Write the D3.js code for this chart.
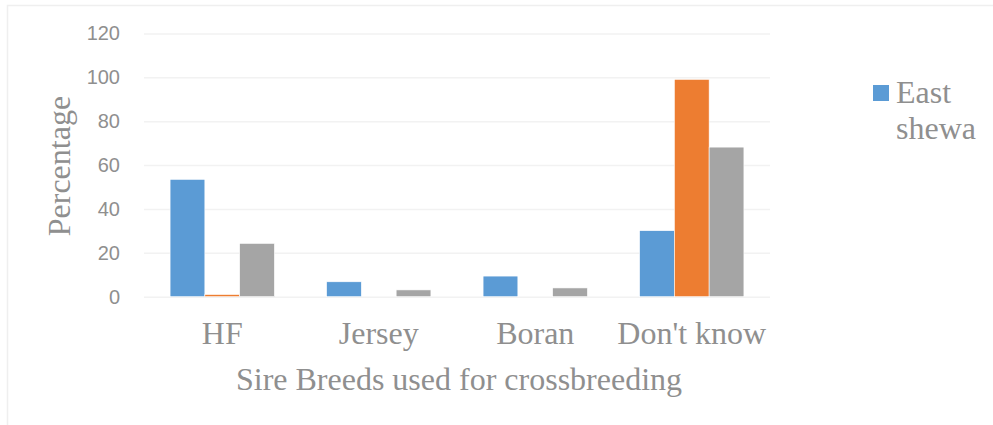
<!DOCTYPE html>
<html>
<head>
<meta charset="utf-8">
<script src="https://cdn.jsdelivr.net/npm/d3@7"></script>
<style>
  html, body { margin: 0; padding: 0; background: #fff; }
  svg { display: block; }
</style>
</head>
<body>
<svg id="chart" width="993" height="425"></svg>
<script>
// Share of respondents by sire breed used, per zone
const categories = ["HF", "Jersey", "Boran", "Don't know"];
const seriesNames = ["East shewa", "zone2", "zone3"];
const eastShewa = [53.5, 6.8, 9.4, 30.1];
const zone2 = [1, 0, 0, 99.1];
const zone3 = [24.3, 3.1, 4.0, 68.2];
const yTicks = [0, 20, 40, 60, 80, 100, 120];
const legendLabels = ["East shewa"];

const seriesValues = [eastShewa, zone2, zone3];
const colors = ["#5b9bd5", "#ed7d31", "#a5a5a5"];

const svg = d3.select("#chart");
const plot = { left: 144, right: 770, top: 33.5, bottom: 296.7 };

// outer chart frame
svg.append("rect")
  .attr("x", 7.5).attr("y", 5.5)
  .attr("width", 1000).attr("height", 440)
  .attr("fill", "#fff")
  .attr("stroke", "#efefef")
  .attr("stroke-width", 1.5);

const x0 = d3.scaleBand().domain(categories).range([plot.left, plot.right]).padding(0);
const x1 = d3.scaleBand().domain(seriesNames).range([0, x0.bandwidth()])
  .paddingInner(0).paddingOuter(0.75);
const y = d3.scaleLinear().domain([0, 120]).range([plot.bottom, plot.top]);

// gridlines + tick labels
const yAxis = d3.axisLeft(y).tickValues(yTicks)
  .tickSize(-(plot.right - plot.left)).tickPadding(24);
const gy = svg.append("g").attr("transform", `translate(${plot.left},0)`).call(yAxis);
gy.select(".domain").remove();
gy.selectAll(".tick line").attr("stroke", "#f2f2f2").attr("stroke-width", 1.5);
gy.selectAll(".tick text")
  .attr("fill", "#8f8f8f")
  .style("font-family", "'Liberation Sans', Arial, sans-serif")
  .style("font-size", "20px");

// bars
const rows = categories.map((c, i) => ({
  cat: c,
  vals: seriesNames.map((s, j) => ({ key: s, value: seriesValues[j][i], color: colors[j] }))
}));

svg.append("g").selectAll("g").data(rows).join("g")
  .attr("transform", d => `translate(${x0(d.cat)},0)`)
  .selectAll("rect").data(d => d.vals.filter(v => v.value > 0)).join("rect")
  .attr("x", d => x1(d.key))
  .attr("y", d => y(d.value))
  .attr("width", x1.bandwidth())
  .attr("height", d => y(0) - y(d.value))
  .attr("fill", d => d.color)
  .attr("stroke", "#fff")
  .attr("stroke-width", 0.6);

const serif = "'Liberation Serif', 'Times New Roman', serif";
const textGray = "#8f8f8f";
const serifSize = "32px";

// category labels
svg.append("g").selectAll("text").data(categories).join("text")
  .attr("x", d => x0(d) + x0.bandwidth() / 2)
  .attr("y", 344)
  .attr("text-anchor", "middle")
  .attr("fill", textGray)
  .style("font-family", serif)
  .style("font-size", serifSize)
  .text(d => d);

// axis titles
svg.append("text")
  .attr("x", (plot.left + plot.right) / 2 + 2)
  .attr("y", 390)
  .attr("text-anchor", "middle")
  .attr("fill", textGray)
  .style("font-family", serif)
  .style("font-size", serifSize)
  .text("Sire Breeds used for crossbreeding");

svg.append("text")
  .attr("transform", `translate(70,${(plot.top + plot.bottom) / 2 + 1}) rotate(-90)`)
  .attr("text-anchor", "middle")
  .attr("fill", textGray)
  .style("font-family", serif)
  .style("font-size", serifSize)
  .text("Percentage");

// legend
const lg = svg.append("g").attr("transform", "translate(873,85)");
lg.append("rect").attr("width", 16).attr("height", 16).attr("fill", colors[0]);
const lt = lg.append("text")
  .attr("fill", textGray)
  .style("font-family", serif)
  .style("font-size", serifSize);
legendLabels[0].split(" ").forEach((w, i) => {
  lt.append("tspan").attr("x", 23).attr("y", 18 + i * 36).text(w);
});
</script>
</body>
</html>
